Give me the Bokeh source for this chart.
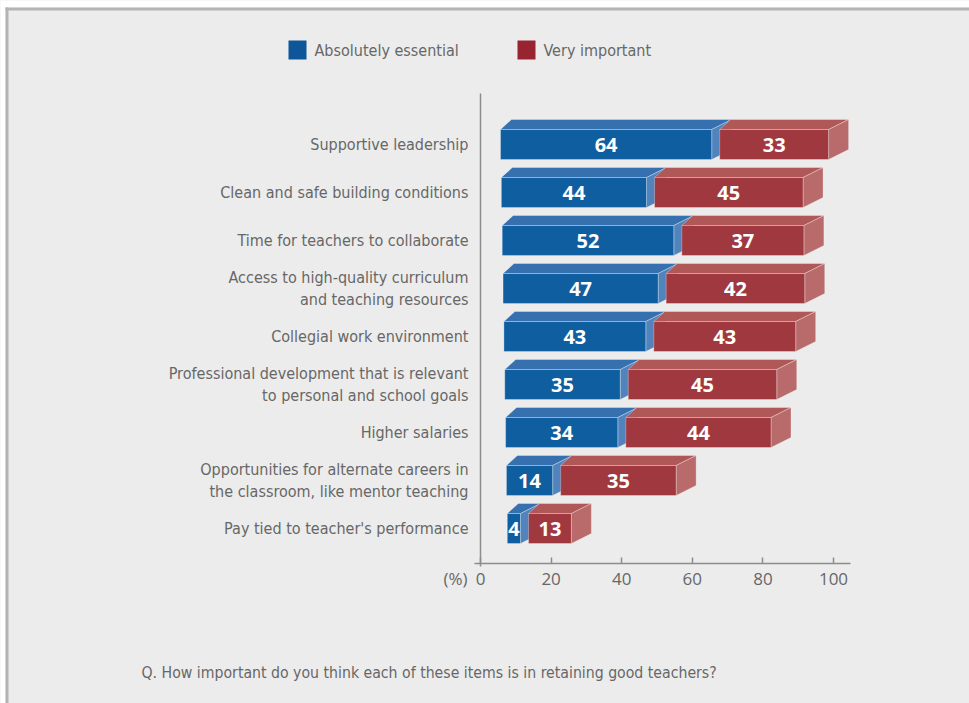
from bokeh.plotting import figure
from bokeh.models import Range1d, FixedTicker, LinearAxis
from bokeh.embed import file_html
from bokeh.resources import INLINE
from bokeh.core.properties import value

# ---------------- data ----------------
categories = [
    "Supportive leadership",
    "Clean and safe building conditions",
    "Time for teachers to collaborate",
    "Access to high-quality curriculum\nand teaching resources",
    "Collegial work environment",
    "Professional development that is relevant\nto personal and school goals",
    "Higher salaries",
    "Opportunities for alternate careers in\nthe classroom, like mentor teaching",
    "Pay tied to teacher's performance",
]
essential = [64, 44, 52, 47, 43, 35, 34, 14, 4]
important = [33, 45, 37, 42, 43, 45, 44, 35, 13]
series_names = ["Absolutely essential", "Very important"]
x_ticks = [0, 20, 40, 60, 80, 100]
axis_unit = "(%)"
question = "Q. How important do you think each of these items is in retaining good teachers?"

# ---------------- style ----------------
BG = "#ececec"
BLUE_FRONT, BLUE_TOP, BLUE_SIDE = "#0f5e9f", "#3770ae", "#5183bd"
RED_FRONT, RED_TOP, RED_SIDE = "#a0393f", "#b05757", "#b96b6b"
LEG_COLORS = ["#0c5699", "#982432"]
TXT = "#676767"
AXIS = "#8c8c8c"
NARROW = "DejaVu Sans Condensed"
W, H = 969, 703

# screen layout: x data 0 sits at px 480, 3.53 px per unit; one row = 48 px
PX = 3.53
X0_PX = 480
ROW = 48
Y0_PX = 528               # pixel row of y data 0 (bottom category)


def dx(px):
    return (px - X0_PX) / PX


def dy(py):
    return (Y0_PX - py) / ROW


# 3D projection parameters
START = dx(500)
START_STEP = 0.85 / PX
K = 3.3 / PX              # depth foreshortening of bar lengths
GAP = 8 / PX
DL = 11 / PX
DR = 20 / PX
HALF = 15 / ROW
DEPTH = 10 / ROW

n = len(categories)
Y_BOTTOM, Y_TOP = dy(563), dy(93)

p = figure(width=W, height=H, output_backend="svg", toolbar_location=None,
           x_range=Range1d(dx(0), dx(W)), y_range=Range1d(dy(H), dy(0)),
           x_axis_type=None, y_axis_type=None, min_border=0)
p.background_fill_color = BG
p.border_fill_color = BG
p.outline_line_color = None
p.xgrid.visible = False
p.ygrid.visible = False

# panel border (white page margin + grey rule at left and top)
p.quad(left=[dx(0), dx(0)], right=[dx(5), dx(W)], top=[dy(0), dy(0)],
       bottom=[dy(H), dy(7)], fill_color="white", line_color=None)
p.quad(left=[dx(5), dx(5)], right=[dx(8), dx(W)], top=[dy(7), dy(7)],
       bottom=[dy(H), dy(10)], fill_color="#b4b4b4", line_color=None)

# ---------------- bars ----------------
faces = {k: {"xs": [], "ys": []} for k in ["bt", "bs", "rt", "rs"]}
fronts = {"b": dict(left=[], right=[], top=[], bottom=[]),
          "r": dict(left=[], right=[], top=[], bottom=[])}
lab = dict(x=[], y=[], text=[])

for i in range(n):
    yc = n - 1 - i
    yb, yt = yc - HALF, yc + HALF
    x0 = START + START_STEP * i
    x1 = x0 + K * essential[i]
    x2 = x1 + GAP
    x3 = x2 + K * important[i]
    for key, a, b in (("b", x0, x1), ("r", x2, x3)):
        faces[key + "t"]["xs"].append([a, a + DL, b + DR, b])
        faces[key + "t"]["ys"].append([yt, yt + DEPTH, yt + DEPTH, yt])
        faces[key + "s"]["xs"].append([b, b, b + DR, b + DR])
        faces[key + "s"]["ys"].append([yb, yt, yt + DEPTH, yb + DEPTH])
        fronts[key]["left"].append(a)
        fronts[key]["right"].append(b)
        fronts[key]["top"].append(yt)
        fronts[key]["bottom"].append(yb)
    lab["x"] += [(x0 + x1) / 2, (x2 + x3) / 2]
    lab["y"] += [yc, yc]
    lab["text"] += [str(essential[i]), str(important[i])]

edge = dict(line_color="white", line_alpha=0.3, line_width=1)
p.patches(faces["bt"]["xs"], faces["bt"]["ys"], fill_color=BLUE_TOP, **edge)
p.patches(faces["bs"]["xs"], faces["bs"]["ys"], fill_color=BLUE_SIDE, **edge)
p.quad(**fronts["b"], fill_color=BLUE_FRONT, **edge)
p.patches(faces["rt"]["xs"], faces["rt"]["ys"], fill_color=RED_TOP, **edge)
p.patches(faces["rs"]["xs"], faces["rs"]["ys"], fill_color=RED_SIDE, **edge)
p.quad(**fronts["r"], fill_color=RED_FRONT, **edge)

p.text(x="x", y="y", text="text", source=lab, text_color="white",
       text_font=value("Open Sans"), text_font_style="bold",
       text_font_size="20px", text_align="center", text_baseline="middle")

# ---------------- axes ----------------
xa = LinearAxis(fixed_location=Y_BOTTOM, bounds=(dx(474), dx(850)),
                ticker=FixedTicker(ticks=x_ticks))
xa.axis_line_color = AXIS
xa.axis_line_width = 1.5
xa.major_tick_line_color = AXIS
xa.major_tick_line_width = 1.5
xa.major_tick_in = 6
xa.major_tick_out = 0
xa.minor_tick_line_color = None
xa.major_label_text_font = "Open Sans"
xa.major_label_text_font_size = "17px"
xa.major_label_text_color = TXT
xa.major_label_standoff = 9
p.add_layout(xa, "below")

ya = LinearAxis(fixed_location=0, bounds=(dy(566), Y_TOP),
                ticker=FixedTicker(ticks=list(range(n))))
ya.major_label_overrides = {n - 1 - i: c for i, c in enumerate(categories)}
ya.axis_line_color = AXIS
ya.axis_line_width = 1.5
ya.major_tick_line_color = None
ya.minor_tick_line_color = None
ya.major_label_text_font = NARROW
ya.major_label_text_font_size = "16px"
ya.major_label_text_color = TXT
ya.major_label_standoff = 6
p.add_layout(ya, "left")

p.text(x=[dx(467)], y=[dy(578)], text=[axis_unit], text_font=value("Open Sans"),
       text_font_size="17px", text_color=TXT, text_align="right",
       text_baseline="middle")

# ---------------- legend ----------------
leg_px = [288, 517]
p.quad(left=[dx(x) for x in leg_px], right=[dx(x + 18) for x in leg_px],
       top=[dy(40)] * 2, bottom=[dy(59)] * 2, fill_color=LEG_COLORS, line_color=None)
p.text(x=[dx(x + 26) for x in leg_px], y=[dy(49.5)] * 2, text=series_names,
       text_font=value(NARROW), text_font_size="16px", text_color=TXT,
       text_align="left", text_baseline="middle")

# ---------------- caption ----------------
p.text(x=[dx(141)], y=[dy(672)], text=[question], text_font=value(NARROW),
       text_font_size="15.7px", text_color=TXT, text_align="left",
       text_baseline="middle")

open("out.html", "w").write(file_html(p, INLINE))
